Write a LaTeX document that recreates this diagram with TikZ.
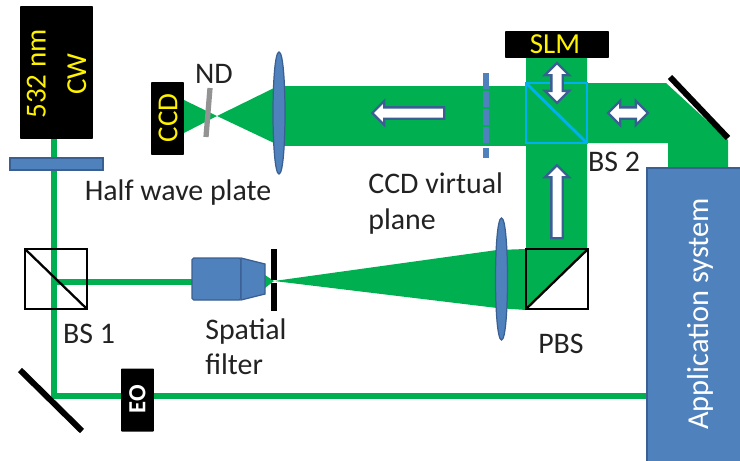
\documentclass[tikz,border=0pt]{standalone}
\usepackage{fontspec}
\setmainfont{Carlito}
\usetikzlibrary{shapes.arrows}
\definecolor{beamgreen}{HTML}{00B050}
\definecolor{partblue}{HTML}{4F81BD}
\definecolor{edgeblue}{HTML}{3A5F92}
\definecolor{cubecyan}{HTML}{00B0F0}
\definecolor{labelgrey}{HTML}{222222}
\begin{document}
\begin{tikzpicture}[x=0.02cm, y=-0.02cm,
    beam/.style={fill=beamgreen, draw=none},
    thinbeam/.style={draw=beamgreen, line width=3.4pt},
    part/.style={fill=partblue, draw=edgeblue, line width=0.7pt},
    device/.style={fill=black, rounded corners=0.5pt},
    mirror/.style={draw=black, line width=3.4pt},
    cube/.style={draw=black, line width=1.3pt},
    lbl/.style={text=labelgrey, font=\fontsize{17}{20}\selectfont, inner sep=0pt},
    devlbl/.style={text=yellow, font=\fontsize{16.5}{18}\selectfont, inner sep=0pt, rotate=90, align=center},
    onearrow/.style={single arrow, draw=edgeblue, fill=white, line width=1.3pt, inner xsep=0pt, inner ysep=0.09cm, single arrow head extend=0.13cm},
    twoarrow/.style={double arrow, draw=edgeblue, fill=white, line width=1.3pt, inner xsep=0pt, inner ysep=0.09cm, double arrow head extend=0.13cm}]
  \useasboundingbox (0,0) rectangle (740,460);

  \draw[thinbeam] (54,139) -- (54,396) -- (647,396);
  \draw[thinbeam] (54,282) -- (192,282);

  \fill[beam] (265,275) -- (274,281) -- (265,288) -- cycle;
  \fill[beam] (274,281) -- (497,250) -- (526,249) -- (526,310) -- (497,308) -- cycle;
  \fill[beam] (526,249) -- (526,58) -- (587,58) -- (587,83) -- (666,83) -- (728,140) -- (728,168) -- (668,168) -- (668,143) -- (587,143) -- (587,249) -- cycle;
  \fill[beam] (526,85.7) rectangle (279,145.7);
  \fill[beam] (274,88) -- (217,116) -- (184,100) -- (184,133) -- (217,116) -- (274,143) -- cycle;
  \fill[beam] (526,249) -- (588,249) -- (526,310) -- cycle;

  \node[device, minimum width=1.46cm, minimum height=2.66cm] (laser) at (56.5,72.5) {};
  \node[devlbl] (laserlbl) at (56.5,74) {532 nm\\[5pt]CW};
  \node[device, minimum width=0.66cm, minimum height=1.46cm] (ccd) at (167.5,118.5) {};
  \node[devlbl] (ccdlbl) at (168,118) {CCD};
  \node[device, minimum width=2.08cm, minimum height=0.54cm] (slm) at (557,44.5) {};
  \node[devlbl, rotate=-90] (slmlbl) at (555,44.5) {SLM};
  \node[device, minimum width=0.66cm, minimum height=1.26cm] (eo) at (137.5,400) {};
  \node[devlbl, text=white, font=\fontsize{14}{16}\selectfont\bfseries] (eolbl) at (137.5,399) {EO};

  \draw[part] (10,158) rectangle (103,170);
  \draw[part] (279,52) .. controls (271,52) and (271,174) .. (279,174) .. controls (287,174) and (287,52) .. (279,52) -- cycle;
  \draw[part] (501.5,218) .. controls (493.5,218) and (493.5,340) .. (501.5,340) .. controls (509.5,340) and (509.5,218) .. (501.5,218) -- cycle;
  \draw[part, rounded corners=1pt] (192,258) rectangle (241,300);
  \draw[part] (241,258) -- (265,264) -- (265,294) -- (241,300) -- cycle;

  \draw[line width=3pt, draw=gray!85] (210,88) -- (206,137);
  \draw[line width=3pt, draw=black] (274,249) -- (274,279.5);
  \draw[line width=3pt, draw=black] (274,283) -- (274,311);
  \draw[mirror] (670,77) -- (728,138);
  \draw[mirror] (20,370) -- (82,431);
  \draw[draw=partblue, line width=3pt, dash pattern=on 9pt off 1.2pt on 9pt off 1.2pt on 9pt off 1.2pt on 9pt off 3pt on 6pt off 9pt] (486,73) -- (486,163);

  \draw[cube] (25,249) rectangle (87,309);
  \draw[cube] (25,249) -- (87,309);
  \draw[cube] (526,249) rectangle (588,309);
  \draw[cube] (526,309) -- (588,249);
  \draw[draw=cubecyan, line width=1.6pt] (526,83) rectangle (587,143);
  \draw[draw=cubecyan, line width=1.6pt] (526,83) -- (587,143);

  \node[onearrow, minimum height=1.44cm, minimum width=0.46cm, rotate=180] (arrowccd) at (411,113) {};
  \node[onearrow, minimum height=1.46cm, minimum width=0.42cm, rotate=90] (arrowup) at (557,204.5) {};
  \node[twoarrow, minimum height=0.8cm, minimum width=0.42cm, rotate=90] (arrowslm) at (557,83) {};
  \node[twoarrow, minimum height=0.8cm, minimum width=0.42cm] (arrowout) at (628,113) {};

  \draw[part] (647,168) rectangle (742,462);
  \node[lbl, text=white, rotate=90, font=\fontsize{17.3}{20}\selectfont] (applbl) at (700,314) {Application system};

  \node[lbl] (ndlbl) at (214,74) {ND};
  \node[lbl] (hwplbl) at (178,193) {Half wave plate};
  \node[lbl, align=left, anchor=north west, font=\fontsize{17}{21}\selectfont] (virtlbl) at (368,172) {CCD virtual\\plane};
  \node[lbl] (bstwolbl) at (614,162) {BS 2};
  \node[lbl] (bsonelbl) at (89,334) {BS 1};
  \node[lbl, align=left, anchor=north west] (filterlbl) at (205,318) {Spatial\\filter};
  \node[lbl] (pbslbl) at (561,344) {PBS};
\end{tikzpicture}
\end{document}
